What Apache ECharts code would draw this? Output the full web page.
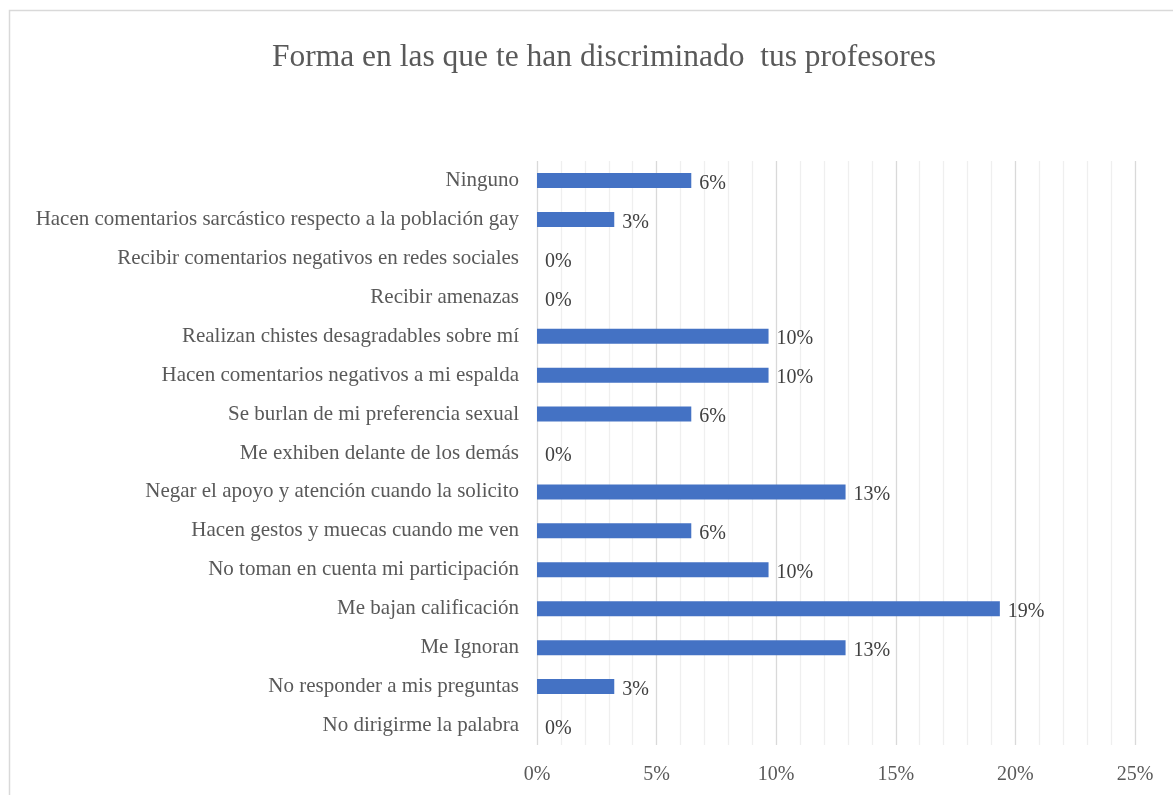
<!DOCTYPE html>
<html>
<head>
<meta charset="utf-8">
<script src="https://cdn.jsdelivr.net/npm/echarts@6/dist/echarts.min.js"></script>
<style>
  html, body { margin: 0; padding: 0; background: #fff; }
  #chart { width: 1173px; height: 795px; }
</style>
</head>
<body>
<div id="chart"></div>
<script>
const title = 'Forma en las que te han discriminado  tus profesores'
const categories = [
  'Ninguno',
  'Hacen comentarios sarcástico respecto a la población gay',
  'Recibir comentarios negativos en redes sociales',
  'Recibir amenazas',
  'Realizan chistes desagradables sobre mí',
  'Hacen comentarios negativos a mi espalda',
  'Se burlan de mi preferencia sexual',
  'Me exhiben delante de los demás',
  'Negar el apoyo y atención cuando la solicito',
  'Hacen gestos y muecas cuando me ven',
  'No toman en cuenta mi participación',
  'Me bajan calificación',
  'Me Ignoran',
  'No responder a mis preguntas',
  'No dirigirme la palabra'
]
// porcentajes (aprox. n/31)
const values = [6.45, 3.23, 0, 0, 9.68, 9.68, 6.45, 0, 12.9, 6.45, 9.68, 19.35, 12.9, 3.23, 0]

const font = 'Liberation Serif'
const textColor = '#404040'

const chart = echarts.init(document.getElementById('chart'))
chart.setOption({
  animation: false,
  textStyle: { fontFamily: font },
  title: {
    text: title,
    left: 267,
    top: 37,
    textStyle: { fontFamily: font, fontSize: 31.5, fontWeight: 'normal', color: '#595959' }
  },
  graphic: [{
    type: 'rect',
    shape: { x: 9.5, y: 10.5, width: 1400, height: 1000 },
    style: { fill: 'none', stroke: '#d9d9d9', lineWidth: 1.5 },
    silent: true
  }],
  grid: { left: 537, right: 38, top: 161, bottom: 50 },
  xAxis: {
    type: 'value',
    min: 0,
    max: 25,
    interval: 5,
    axisLine: { show: false },
    axisTick: { show: false },
    axisLabel: {
      formatter: '{value}%',
      fontFamily: font,
      fontSize: 20,
      color: '#595959',
      margin: 20
    },
    splitLine: { show: true, lineStyle: { color: '#d9d9d9', width: 1.3 } },
    minorTick: { show: false, splitNumber: 5 },
    minorSplitLine: { show: true, lineStyle: { color: '#efefef', width: 1.3 } }
  },
  yAxis: {
    type: 'category',
    data: categories,
    inverse: true,
    axisLine: { show: false },
    axisTick: { show: false },
    axisLabel: {
      fontFamily: font,
      fontSize: 21,
      color: '#595959',
      margin: 18
    }
  },
  series: [{
    type: 'bar',
    data: values,
    barWidth: 15,
    itemStyle: { color: '#4472c4' },
    label: {
      show: true,
      position: 'right',
      distance: 8,
      offset: [0, 3],
      fontFamily: font,
      fontSize: 20,
      color: textColor,
      formatter: p => Math.round(p.value) + '%'
    }
  }]
})
window.addEventListener('resize', () => chart.resize())
</script>
</body>
</html>
